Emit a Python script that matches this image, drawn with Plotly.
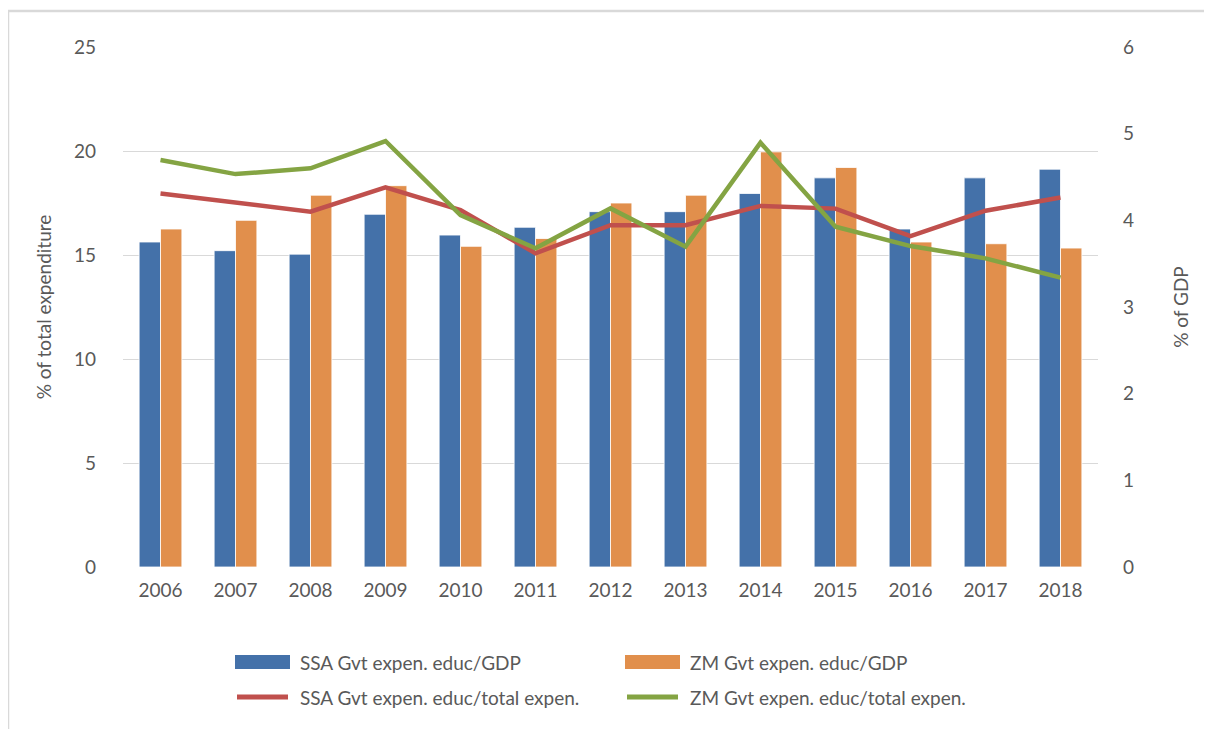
import plotly.graph_objects as go

years = ["2006", "2007", "2008", "2009", "2010", "2011", "2012",
         "2013", "2014", "2015", "2016", "2017", "2018"]

# % of GDP (right axis)
ssa_gdp = [3.75, 3.65, 3.61, 4.07, 3.83, 3.92, 4.10, 4.10, 4.31, 4.49, 3.90, 4.49, 4.59]
zm_gdp = [3.90, 4.00, 4.29, 4.40, 3.70, 3.79, 4.20, 4.29, 4.79, 4.61, 3.75, 3.73, 3.68]

# % of total expenditure (left axis)
ssa_total = [17.96, 17.52, 17.08, 18.25, 17.16, 15.08, 16.43, 16.43, 17.36, 17.23, 15.91, 17.13, 17.76]
zm_total = [19.57, 18.89, 19.17, 20.48, 16.92, 15.32, 17.24, 15.40, 20.40, 16.36, 15.43, 14.84, 13.91]

names = ["SSA Gvt expen. educ/GDP", "ZM Gvt expen. educ/GDP",
         "SSA Gvt expen. educ/total expen.", "ZM Gvt expen. educ/total expen."]

BLUE = "#4471A9"
ORANGE = "#E18F4C"
RED = "#C0504D"
GREEN = "#84A443"
TXT = "#595959"
GRID = "#D9D9D9"
FONT = "Lato"
FS = 19

OFF = 8  # page body margin
W, H = 1212 - OFF, 729 - OFF
L, R, T, B = 123 - OFF, 1098 - OFF, 47 - OFF, 567 - OFF


def px(x):
    return (x - OFF - L) / (R - L)


def py(y):
    return (B - (y - OFF)) / (B - T)


fig = go.Figure()
fig.add_trace(go.Bar(x=years, y=ssa_gdp, name=names[0], marker_color=BLUE,
                     marker_line=dict(color="white", width=0.8), yaxis="y", showlegend=False))
fig.add_trace(go.Bar(x=years, y=zm_gdp, name=names[1], marker_color=ORANGE,
                     marker_line=dict(color="white", width=0.8), yaxis="y", showlegend=False))
fig.add_trace(go.Scatter(x=years, y=ssa_total, name=names[2], mode="lines",
                         line=dict(color=RED, width=4.5), yaxis="y2", showlegend=False))
fig.add_trace(go.Scatter(x=years, y=zm_total, name=names[3], mode="lines",
                         line=dict(color=GREEN, width=4.5), yaxis="y2", showlegend=False))

shapes = []
annotations = []
# frame
shapes.append(dict(type="line", xref="paper", yref="paper", x0=px(8), x1=px(1230),
                   y0=py(11), y1=py(11), line=dict(color=GRID, width=2.5)))
shapes.append(dict(type="line", xref="paper", yref="paper", x0=px(8), x1=px(8),
                   y0=py(11), y1=py(740), line=dict(color=GRID, width=2.5)))

# custom legend
leg = [
    (235, 662, BLUE, "rect", names[0]),
    (625, 662, ORANGE, "rect", names[1]),
    (235, 697, RED, "line", names[2]),
    (625, 697, GREEN, "line", names[3]),
]
for x0, yc, col, kind, label in leg:
    if kind == "rect":
        shapes.append(dict(type="rect", xref="paper", yref="paper", x0=px(x0), x1=px(x0 + 55),
                           y0=py(yc - 7), y1=py(yc + 7), fillcolor=col, line=dict(width=0)))
    else:
        shapes.append(dict(type="line", xref="paper", yref="paper", x0=px(x0 + 2), x1=px(x0 + 53),
                           y0=py(yc), y1=py(yc), line=dict(color=col, width=5)))
    annotations.append(dict(xref="paper", yref="paper", x=px(x0 + 63), y=py(yc), text=label,
                            showarrow=False, xanchor="left", yanchor="middle",
                            font=dict(family=FONT, size=FS, color=TXT)))

fig.update_layout(
    width=W, height=H,
    margin=dict(l=L, r=W - R, t=T, b=H - B, autoexpand=False),
    paper_bgcolor="white", plot_bgcolor="white",
    barmode="group", bargap=0.43, bargroupgap=0,
    font=dict(family=FONT, size=FS, color=TXT),
    xaxis=dict(type="category", showgrid=False, showline=False, zeroline=False,
               ticks="", ticklabelstandoff=10, tickfont=dict(size=FS, color=TXT)),
    yaxis=dict(side="right", range=[0, 6], dtick=1, showgrid=False, zeroline=False,
               showline=False, ticks="", ticklabelstandoff=24,
               title=dict(text="% of GDP", standoff=41, font=dict(size=FS, color=TXT)),
               tickfont=dict(size=FS, color=TXT)),
    yaxis2=dict(side="left", overlaying="y", range=[0, 25], dtick=5, showgrid=True,
                gridcolor=GRID, gridwidth=1, zeroline=False, showline=False, ticks="",
                ticklabelstandoff=26,
                title=dict(text="% of total expenditure", standoff=17, font=dict(size=FS, color=TXT)),
                tickfont=dict(size=FS, color=TXT)),
    shapes=shapes,
    annotations=annotations,
)

fig.write_html("out.html")
